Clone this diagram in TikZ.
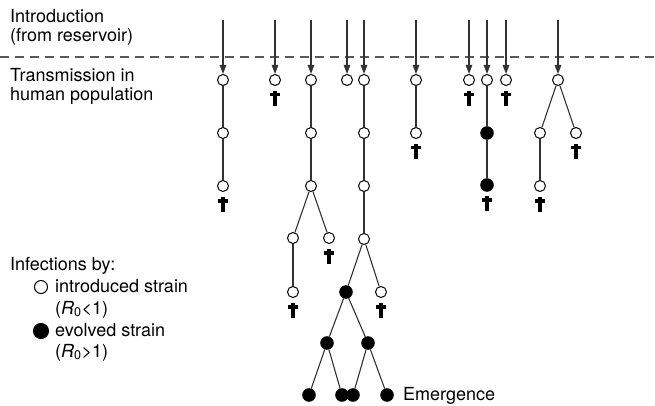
\documentclass[tikz,border=0pt]{standalone}
\usepackage{fontspec}
\setmainfont{TeX Gyre Heros}
\usetikzlibrary{arrows.meta}

\tikzset{dead/.pic={
    \fill (-2,11) rectangle (2,26);
    \fill (-5,13) rectangle (5,16.5);
  }}

\begin{document}
\begin{tikzpicture}
  [x=1pt,y=-1pt,
   open/.style={circle,draw,fill=white,line width=1pt,minimum size=11pt,inner sep=0pt},
   evolved/.style={open,fill=black,minimum size=12.5pt},
   link/.style={draw=black!80,line width=1.1pt},
   intro/.style={link,-{Triangle[width=6.5pt,length=9pt]}},
   txt/.style={anchor=base west,inner sep=0pt,font=\fontsize{18}{19}\selectfont}]
  \useasboundingbox (0,0) rectangle (655,406);

  % labels on the left
  \node[txt] (intro1) at (10,23)  {Introduction};
  \node[txt] (intro2) at (10,42)  {(from reservoir)};
  \node[txt] (trans1) at (10,82)  {Transmission in};
  \node[txt] (trans2) at (10,101) {human population};

  \coordinate (west) at (0,57);
  \coordinate (east) at (655,57);
  \draw[black!65,line width=1.3pt,dash pattern=on 9pt off 6pt] (west) -- (east);
  \coordinate (top) at (0,20);

  % chains of infection
  \node[open] (a1) at (223,80)  {};
  \node[open] (a2) at (223,133) {};
  \node[open] (a3) at (223,186) {};

  \node[open] (b1) at (275,80)  {};

  \node[open] (c1) at (311,80)  {};
  \node[open] (c2) at (311,133) {};
  \node[open] (c3) at (311,186) {};
  \node[open] (c4) at (293,238) {};
  \node[open] (c5) at (329,238) {};
  \node[open] (c6) at (293,292) {};

  \node[open] (d1) at (347,80)  {};

  \node[open] (e1) at (364,80)  {};
  \node[open] (e2) at (364,133) {};
  \node[open] (e3) at (364,186) {};
  \node[open] (e4) at (364,239) {};
  \node[evolved] (e5) at (346,292) {};
  \node[open] (e6) at (381,292) {};
  \node[evolved] (e7) at (327,343) {};
  \node[evolved] (e8) at (368,343) {};
  \node[evolved] (e9)  at (309,395) {};
  \node[evolved] (e10) at (342,395) {};
  \node[evolved] (e11) at (353,395) {};
  \node[evolved] (e12) at (387,395) {};

  \node[open] (f1) at (416,80)  {};
  \node[open] (f2) at (416,133) {};

  \node[open] (g1) at (469,80)  {};

  \node[open] (h1) at (487,80)  {};
  \node[evolved] (h2) at (487,133) {};
  \node[evolved] (h3) at (487,185) {};

  \node[open] (i1) at (506,80)  {};

  \node[open] (j1) at (558,80)  {};
  \node[open] (j2) at (540,133) {};
  \node[open] (j3) at (576,133) {};
  \node[open] (j4) at (540,186) {};

  \foreach \n in {a1,b1,c1,d1,e1,f1,g1,h1,i1,j1}
    \draw[intro] (\n |- top) -- (\n);

  \foreach \from/\to in {a1/a2,a2/a3,c1/c2,c2/c3,c3/c4,c3/c5,c4/c6,
                         e1/e2,e2/e3,e3/e4,e4/e5,e4/e6,e5/e7,e5/e8,
                         e7/e9,e7/e10,e8/e11,e8/e12,f1/f2,h1/h2,h2/h3,
                         j1/j2,j1/j3,j2/j4}
    \draw[link] (\from) -- (\to);

  \foreach \n in {a3,b1,c5,c6,e6,f2,g1,h3,i1,j3,j4}
    \pic at (\n) {dead};

  \node[txt] (emerge) at (403,400) {Emergence};

  % legend
  \node[txt] (leg0) at (10,270) {Infections by:};
  \node[open,minimum size=13pt] (legopen) at (41,287) {};
  \node[txt] (leg1) at (55,292) {introduced strain};
  \node[txt] (leg2) at (55,314) {(\textit{R}\textsubscript{0}<1)};
  \node[evolved,minimum size=15pt] (legevol) at (41,331) {};
  \node[txt] (leg3) at (55,336) {evolved strain};
  \node[txt] (leg4) at (55,357) {(\textit{R}\textsubscript{0}>1)};

\end{tikzpicture}
\end{document}
